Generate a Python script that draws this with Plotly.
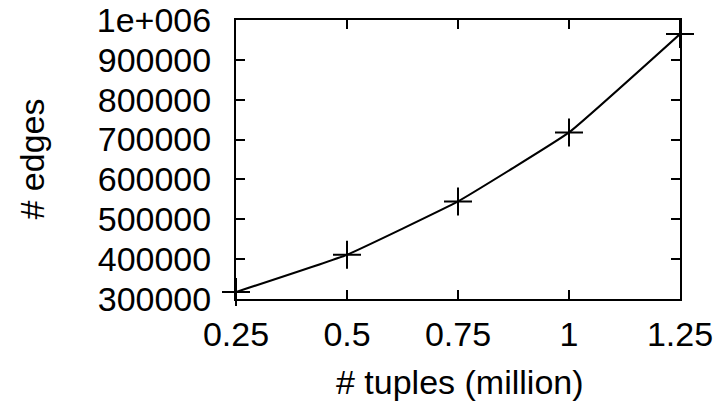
import plotly.graph_objects as go

tuples_million = [0.25, 0.5, 0.75, 1.0, 1.25]
edges = [317600, 411100, 544900, 718000, 964800]

x_tick_vals = [0.25, 0.5, 0.75, 1.0, 1.25]
x_tick_text = ["0.25", "0.5", "0.75", "1", "1.25"]
y_tick_vals = [300000, 400000, 500000, 600000, 700000, 800000, 900000, 1000000]
y_tick_text = ["300000", "400000", "500000", "600000", "700000", "800000", "900000", "1e+006"]

FONT = "Liberation Sans, Arial, sans-serif"
FS = 34

fig = go.Figure()
fig.add_trace(go.Scatter(
    x=tuples_million, y=edges,
    mode="lines+markers",
    line=dict(color="black", width=2, shape="spline", smoothing=0.3),
    marker=dict(symbol="cross-thin", size=20, color="black",
                line=dict(color="black", width=2)),
    cliponaxis=False,
    showlegend=False,
))

axis_common = dict(
    showgrid=False, zeroline=False, automargin=False,
    showline=True, linecolor="black", linewidth=2,
    mirror="ticks", ticks="inside", ticklen=9, tickwidth=1.5, tickcolor="black",
    tickfont=dict(family=FONT, size=FS, color="black"),
)

fig.update_layout(
    width=720, height=409,
    margin=dict(l=236, r=40, t=20, b=110),
    paper_bgcolor="white", plot_bgcolor="white",
    xaxis=dict(range=[0.25, 1.25], tickvals=x_tick_vals, ticktext=x_tick_text,
               ticklabelstandoff=4, **axis_common),
    yaxis=dict(range=[300000, 1000000], tickvals=y_tick_vals, ticktext=y_tick_text,
               ticklabelstandoff=16, **axis_common),
    annotations=[
        dict(text="# tuples (million)", xref="paper", yref="paper",
             x=(460 - 236) / 444, y=-(382 - 299) / 279, xanchor="center", yanchor="middle",
             showarrow=False, font=dict(family=FONT, size=FS, color="black")),
        dict(text="# edges", xref="paper", yref="paper",
             x=-(236 - 31) / 444, y=0.5, xanchor="center", yanchor="middle", textangle=-90,
             showarrow=False, font=dict(family=FONT, size=FS, color="black")),
    ],
)

fig.write_html("out.html")
